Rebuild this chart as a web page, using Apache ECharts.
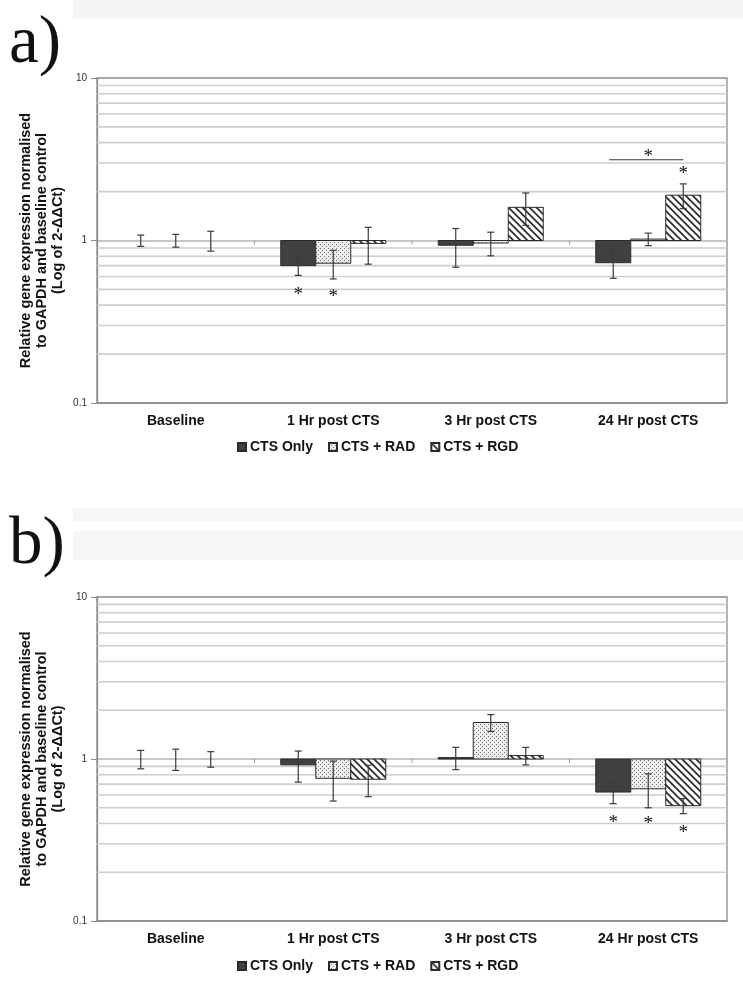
<!DOCTYPE html>
<html><head><meta charset="utf-8">
<script src="https://cdn.jsdelivr.net/npm/echarts@6/dist/echarts.min.js"></script>
<style>html,body{margin:0;padding:0;background:#fff}#c{width:743px;height:983px}</style>
</head><body><div id="c"></div>
<script>
// ---------- data ----------
const categories = ['Baseline', '1 Hr post CTS', '3 Hr post CTS', '24 Hr post CTS'];
const seriesNames = ['CTS Only', 'CTS + RAD', 'CTS + RGD'];
const yTickLabels = ['0.1', '1', '10'];
const minorGridValues = [0.2, 0.3, 0.4, 0.5, 0.6, 0.7, 0.8, 0.9, 2, 3, 4, 5, 6, 7, 8, 9];
const panelTitles = ['a)', 'b)'];
const yAxisTitle = 'Relative gene expression normalised\nto GAPDH and baseline control\n(Log of 2-\u0394\u0394Ct)';

// panel a
const aCtsOnly = [1.0, 0.70, 0.935, 0.73];
const aCtsOnlyErr = [0.08, 0.09, 0.25, 0.145];
const aRad = [1.0, 0.725, 0.965, 1.02];
const aRadErr = [0.09, 0.145, 0.16, 0.09];
const aRgd = [1.0, 0.96, 1.6, 1.9];
const aRgdErr = [0.14, 0.245, 0.36, 0.33];
// significance stars: [category, series, value level]
const aStars = [[1, 0, 0.488], [1, 1, 0.472], [3, 2, 2.72], [3, 1, 3.47]];
// bracket: [category, fromSeries, toSeries, value level]
const aBrackets = [[3, 0, 2, 3.14]];

// panel b
const bCtsOnly = [1.0, 0.92, 1.02, 0.625];
const bCtsOnlyErr = [0.13, 0.2, 0.16, 0.095];
const bRad = [1.0, 0.76, 1.68, 0.655];
const bRadErr = [0.15, 0.21, 0.2, 0.155];
const bRgd = [1.0, 0.75, 1.05, 0.515];
const bRgdErr = [0.11, 0.165, 0.13, 0.055];
const bStars = [[3, 0, 0.426], [3, 1, 0.42], [3, 2, 0.37]];
const bBrackets = [];

// ---------- patterns ----------
function makeDots() {
  const c = document.createElement('canvas'); c.width = 4; c.height = 4;
  const x = c.getContext('2d');
  x.fillStyle = '#eeeeee'; x.fillRect(0, 0, 4, 4);
  x.fillStyle = '#707070'; x.fillRect(0, 0, 1, 1); x.fillRect(2, 2, 1, 1);
  return c;
}
function makeHatch() {
  const s = 7;
  const c = document.createElement('canvas'); c.width = s; c.height = s;
  const x = c.getContext('2d');
  x.fillStyle = '#fff'; x.fillRect(0, 0, s, s);
  x.strokeStyle = '#2e2e2e'; x.lineWidth = 1.8;
  x.beginPath();
  x.moveTo(-1, -1); x.lineTo(s + 1, s + 1);
  x.moveTo(-1, s - 1); x.lineTo(1, s + 1);
  x.moveTo(s - 1, -1); x.lineTo(s + 1, 1);
  x.stroke();
  return c;
}
const fills = ['#404040', { image: makeDots(), repeat: 'repeat' }, { image: makeHatch(), repeat: 'repeat' }];
const FONT = '"Liberation Sans", Arial, sans-serif';

function groupGeom(api, cat) {
  const band = api.size([1, 1])[0];
  const gw = band * 2 / 3, bw = gw / 3;
  const c = api.coord([cat, 1]);
  return { band, gw, bw, cx: c[0], y1: c[1] };
}

function barSeries(gi, sIdx, vals, errs) {
  return {
    type: 'custom', name: seriesNames[sIdx], xAxisIndex: gi, yAxisIndex: gi, z: 3,
    itemStyle: { color: fills[sIdx], borderColor: '#2a2a2a', borderWidth: 1 },
    encode: { x: 0, y: 1 },
    data: vals.map((v, i) => [i, v, errs[i]]),
    renderItem: function (params, api) {
      const cat = api.value(0), v = api.value(1), e = api.value(2);
      const g = groupGeom(api, cat);
      const left = g.cx - g.gw / 2 + sIdx * g.bw;
      const mid = left + g.bw / 2;
      const yv = api.coord([cat, v])[1];
      const yHi = api.coord([cat, v + e])[1];
      const yLo = api.coord([cat, v - e])[1];
      const children = [];
      if (Math.abs(yv - g.y1) > 0.5) {
        children.push({ type: 'rect', shape: { x: left, y: Math.min(yv, g.y1), width: g.bw, height: Math.abs(yv - g.y1) },
          style: { fill: fills[sIdx], stroke: '#2a2a2a', lineWidth: 1 } });
      }
      const es = { stroke: '#3a3a3a', lineWidth: 1.2 };
      children.push({ type: 'line', shape: { x1: mid, y1: yHi, x2: mid, y2: yLo }, style: es });
      children.push({ type: 'line', shape: { x1: mid - 3.5, y1: yHi, x2: mid + 3.5, y2: yHi }, style: es });
      children.push({ type: 'line', shape: { x1: mid - 3.5, y1: yLo, x2: mid + 3.5, y2: yLo }, style: es });
      return { type: 'group', children };
    }
  };
}

function gridLineSeries(gi) {
  return {
    type: 'custom', xAxisIndex: gi, yAxisIndex: gi, z: 1, silent: true,
    data: minorGridValues.map(v => [0, v]),
    renderItem: function (params, api) {
      const y = api.coord([0, api.value(1)])[1];
      const cs = params.coordSys;
      return { type: 'line', shape: { x1: cs.x, y1: y, x2: cs.x + cs.width, y2: y },
        style: { stroke: '#cdcdcd', lineWidth: 1.6 } };
    }
  };
}

function tickSeries(gi) {
  return {
    type: 'custom', xAxisIndex: gi, yAxisIndex: gi, z: 2, silent: true,
    data: [1, 2, 3].map(i => [i, 1]),
    renderItem: function (params, api) {
      const g = groupGeom(api, api.value(0));
      const x = g.cx - g.band / 2;
      return { type: 'line', shape: { x1: x, y1: g.y1, x2: x, y2: g.y1 + 4 }, style: { stroke: '#999', lineWidth: 1 } };
    }
  };
}

function starSeries(gi, stars, brackets) {
  const items = stars.map(s => [s[0], s[1], s[2], 0, 0]).concat(brackets.map(b => [b[0], b[1], b[3], b[2], 1]));
  return {
    type: 'custom', xAxisIndex: gi, yAxisIndex: gi, z: 5, silent: true,
    encode: { x: 0, y: 2 },
    data: items,
    renderItem: function (params, api) {
      const cat = api.value(0), s = api.value(1), v = api.value(2), s2 = api.value(3), kind = api.value(4);
      const g = groupGeom(api, cat);
      const y = api.coord([cat, v])[1];
      const xc = k => g.cx - g.gw / 2 + k * g.bw + g.bw / 2;
      if (kind === 0) {
        return { type: 'text', style: { text: '*', x: xc(s), y: y + 4, align: 'center', verticalAlign: 'middle',
          font: '19px "Liberation Serif", serif', fill: '#111' } };
      }
      return { type: 'line', shape: { x1: xc(s) - 4, y1: y, x2: xc(s2), y2: y }, style: { stroke: '#333', lineWidth: 1.2 } };
    }
  };
}

const grids = [
  { left: 97, top: 78, width: 630, height: 325 },
  { left: 97, top: 597, width: 630, height: 324 }
];

function xAxis(gi) {
  return {
    type: 'category', gridIndex: gi, data: categories,
    axisLine: { lineStyle: { color: '#8a8a8a', width: 1.5 } },
    axisTick: { show: false },
    axisLabel: { fontFamily: FONT, fontWeight: 'bold', fontSize: 14, color: '#111', margin: 11 }
  };
}
function yAxis(gi) {
  return {
    type: 'log', logBase: 10, gridIndex: gi, min: 0.1, max: 10,
    name: yAxisTitle, nameLocation: 'middle', nameRotate: 90, nameGap: 31, nameMoveOverlap: false,
    nameTextStyle: { fontFamily: FONT, fontWeight: 'bold', fontSize: 14.5, color: '#111', lineHeight: 16, align: 'center' },
    axisLine: { show: true, lineStyle: { color: '#8a8a8a', width: 1.3 } },
    axisTick: { show: true, length: 6, lineStyle: { color: '#8a8a8a' } },
    axisLabel: { fontFamily: FONT, fontSize: 10, color: '#333', margin: 10,
      formatter: v => yTickLabels[Math.round(Math.log10(v)) + 1] },
    splitLine: { show: true, showMaxLine: false, showMinLine: false, lineStyle: { color: '#b4b4b4', width: 1.5 } }
  };
}
function legend(top) {
  return {
    data: seriesNames, left: 232, top: top, itemWidth: 8, itemHeight: 8, itemGap: 15,
    icon: 'rect', selectedMode: false,
    textStyle: { fontFamily: FONT, fontWeight: 'bold', fontSize: 14, color: '#111', padding: [0, 0, 0, -1] }
  };
}

const chart = echarts.init(document.getElementById('c'));
chart.setOption({
  animation: false,
  backgroundColor: '#fff',
  grid: grids.map(g => Object.assign({ show: true, borderColor: '#8a8a8a', borderWidth: 1.3, backgroundColor: 'transparent' }, g)),
  xAxis: [xAxis(0), xAxis(1)],
  yAxis: [yAxis(0), yAxis(1)],
  legend: [legend(435), legend(954)],
  graphic: [
    { type: 'rect', left: 73, top: 0, shape: { width: 670, height: 19 }, style: { fill: '#f6f5f6' }, silent: true },
    { type: 'rect', left: 73, top: 508, shape: { width: 670, height: 13 }, style: { fill: '#f7f6f7' }, silent: true },
    { type: 'rect', left: 73, top: 531, shape: { width: 670, height: 29 }, style: { fill: '#f7f6f7' }, silent: true },
    { type: 'text', left: 9, top: 11, style: { text: panelTitles[0], font: '67px "Liberation Serif", serif', fill: '#111' } },
    { type: 'text', left: 9, top: 512, style: { text: panelTitles[1], font: '67px "Liberation Serif", serif', fill: '#111' } }
  ],
  series: [
    gridLineSeries(0), tickSeries(0),
    barSeries(0, 0, aCtsOnly, aCtsOnlyErr), barSeries(0, 1, aRad, aRadErr), barSeries(0, 2, aRgd, aRgdErr),
    starSeries(0, aStars, aBrackets),
    gridLineSeries(1), tickSeries(1),
    barSeries(1, 0, bCtsOnly, bCtsOnlyErr), barSeries(1, 1, bRad, bRadErr), barSeries(1, 2, bRgd, bRgdErr),
    starSeries(1, bStars, bBrackets)
  ]
});
</script>
</body></html>
